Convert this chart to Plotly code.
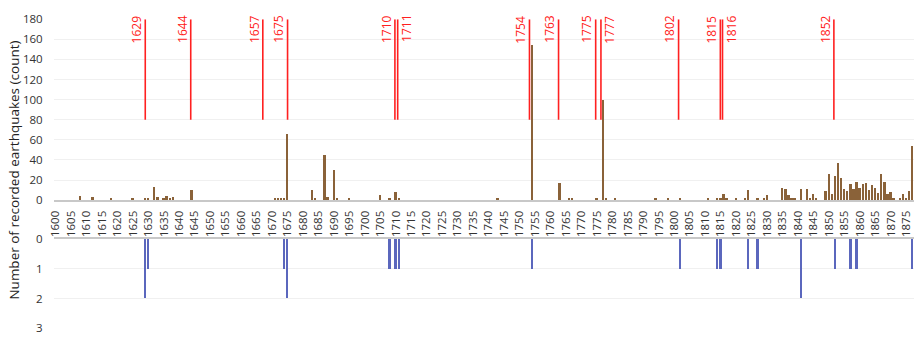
import plotly.graph_objects as go

# ---------------- data ----------------
eq_years = [1608, 1612, 1618, 1625, 1629, 1630, 1632, 1633, 1635, 1636, 1637, 1638, 1644,
            1671, 1672, 1673, 1674, 1675, 1683, 1684, 1687, 1688, 1690, 1691, 1695,
            1705, 1708, 1710, 1711, 1743, 1754, 1763, 1766, 1767, 1775, 1777, 1778, 1781,
            1794, 1798, 1802, 1811, 1814, 1815, 1816, 1817, 1820, 1823, 1824, 1827, 1829, 1830,
            1835, 1836, 1837, 1838, 1839, 1841, 1843, 1844, 1845, 1846, 1849, 1850, 1851,
            1852, 1853, 1854, 1855, 1856, 1857, 1858, 1859, 1860, 1861, 1862, 1863, 1864,
            1865, 1866, 1867, 1868, 1869, 1870, 1871, 1873, 1874, 1875, 1876, 1877]
eq_counts = [4, 3, 1, 1, 2, 2, 13, 3, 2, 4, 2, 3, 10,
             2, 1, 1, 1, 66, 10, 1, 45, 3, 30, 1, 2,
             5, 1, 8, 2, 1, 154, 17, 1, 1, 1, 99, 1, 1,
             1, 1, 1, 1, 1, 2, 6, 1, 2, 1, 10, 1, 1, 5,
             12, 11, 5, 1, 1, 11, 11, 1, 6, 1, 9, 26, 6,
             24, 37, 22, 11, 9, 16, 11, 18, 12, 16, 17, 10, 15,
             12, 7, 26, 18, 6, 8, 1, 2, 6, 2, 9, 54]

event_pos = [1629, 1643.7, 1667, 1675, 1709.7, 1710.6, 1753.2, 1762.6, 1774.6, 1776.3,
             1801.4, 1814.9, 1815.6, 1851.6]
event_labels = ["1629", "1644", "1657", "1675", "1710", "1711", "1754", "1763", "1775", "1777",
                "1802", "1815", "1816", "1852"]
event_low = 80
event_high = 180

low_years = [1629, 1630, 1674, 1675, 1708, 1710, 1711, 1754, 1802, 1814, 1815, 1824, 1827,
             1841, 1852, 1857, 1859, 1877]
low_vals = [2, 1, 1, 2, 1, 1, 1, 1, 1, 1, 1, 1, 1, 2, 1, 1, 1, 1]

x_ticks = list(range(1600, 1876, 5))
y_top_ticks = list(range(0, 181, 20))
y_bot_ticks = [0, 1, 2, 3]

# ---------------- figure ----------------
W, H = 917, 341
ML, MR, MT, MB = 53.5, 3, 0, 0
FONT = "Open Sans"
BROWN = "#8a6239"
BLUE = "#5b67bd"
RED = "#ff2020"

fig = go.Figure()

fig.add_trace(go.Bar(x=eq_years, y=eq_counts, width=0.6, marker_color=BROWN,
                     marker_line_width=0, xaxis="x", yaxis="y", showlegend=False))

# event markers: vertical red segments from event_low to event_high
seg_x, seg_y = [], []
for p in event_pos:
    seg_x += [p, p, None]
    seg_y += [event_low, event_high, None]
fig.add_trace(go.Scatter(x=seg_x, y=seg_y, mode="lines", line=dict(color=RED, width=1.6),
                         xaxis="x", yaxis="y", showlegend=False, hoverinfo="skip"))

fig.add_trace(go.Bar(x=low_years, y=low_vals, width=0.6, marker_color=BLUE,
                     marker_line_width=0, xaxis="x2", yaxis="y2", showlegend=False))

annotations = []
for i, (p, lab) in enumerate(zip(event_pos, event_labels)):
    right = i > 0 and (p - event_pos[i - 1]) < 3
    annotations.append(dict(
        x=p, y=event_high, xref="x", yref="y", text=lab, showarrow=False,
        textangle=-90, xanchor="left" if right else "right", yanchor="top",
        xshift=-2 if right else 1.5, yshift=6,
        font=dict(family=FONT, size=12, color=RED)))

plot_w = W - ML - MR
annotations.append(dict(
    x=(14 - ML) / plot_w, y=(H - 169.5) / H, xref="paper", yref="paper",
    text="Number of recorded earthquakes (count)", showarrow=False, textangle=-90,
    xanchor="center", yanchor="middle",
    font=dict(family=FONT, size=13.5, color="#222222")))

def dom(top_px, bot_px):
    return [(H - MB - bot_px) / (H - MT - MB), (H - MB - top_px) / (H - MT - MB)]

xr = [1599.5, 1877.5]
fig.update_layout(
    width=W, height=H, margin=dict(l=ML, r=MR, t=MT, b=MB),
    paper_bgcolor="white", plot_bgcolor="white", barmode="overlay", bargap=0,
    font=dict(family=FONT, size=11, color="#333333"),
    annotations=annotations,
    xaxis=dict(domain=[0, 1], range=xr, tickmode="array", tickvals=x_ticks,
               ticktext=[str(v) for v in x_ticks], tickangle=-90,
               tickfont=dict(family=FONT, size=11.5, color="#333333"),
               showgrid=False, zeroline=False, showline=True, linecolor="#c8c8c8",
               linewidth=2, ticks="outside", ticklen=4, tickcolor="rgba(0,0,0,0)",
               anchor="y"),
    yaxis=dict(domain=dom(11.7, 201), range=[0, 180], tickmode="array",
               tickvals=y_top_ticks, showgrid=True, gridcolor="#f0f0f0", gridwidth=1,
               zeroline=False, showline=False, ticks="outside", ticklen=8,
               tickcolor="rgba(0,0,0,0)", tickfont=dict(family=FONT, size=11.5, color="#333333"),
               anchor="x"),
    xaxis2=dict(domain=[0, 1], range=xr, matches="x", showticklabels=False, showgrid=False,
                zeroline=False, showline=True, linecolor="#c8c8c8", linewidth=2,
                side="top", ticks="", anchor="y2"),
    yaxis2=dict(domain=dom(241.7, 335), range=[3, 0], tickmode="array",
                tickvals=y_bot_ticks, showgrid=True, gridcolor="#f0f0f0", gridwidth=1,
                zeroline=False, showline=False, ticks="outside", ticklen=8,
                tickcolor="rgba(0,0,0,0)", tickfont=dict(family=FONT, size=11.5, color="#333333"),
                anchor="x2"),
)

fig.write_html("out.html")
